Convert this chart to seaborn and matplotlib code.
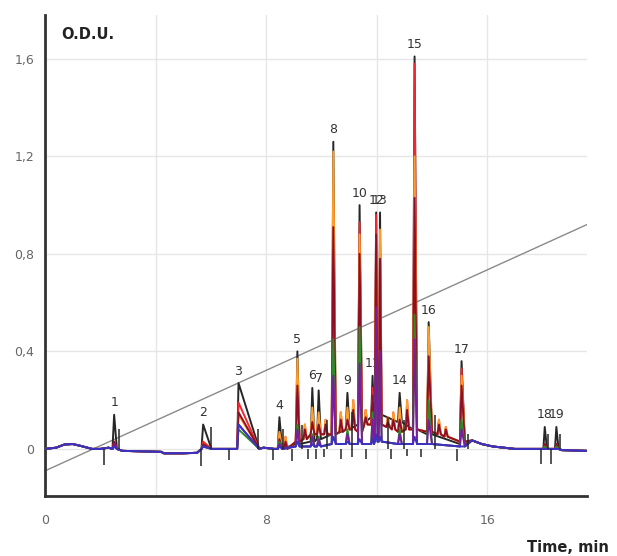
import matplotlib

matplotlib.use("Agg")
import matplotlib.pyplot as plt
import pandas as pd
import seaborn as sns

# peak table (time in min, signal in O.D.U.)
peak_numbers = list(range(1, 20))
peak_times = [2.5, 5.72, 7.0, 8.48, 9.13, 9.67, 9.9, 10.43, 10.94, 11.38,
              11.85, 11.98, 12.12, 12.83, 13.37, 13.88, 15.07, 18.08, 18.5]
rise = [0.06, 0.06, 0.05, 0.06, 0.06, 0.06, 0.06, 0.06, 0.06, 0.06,
        0.05, 0.05, 0.05, 0.06, 0.06, 0.06, 0.06, 0.05, 0.05]
fall = [0.1, 0.3, 0.75, 0.1, 0.08, 0.08, 0.08, 0.09, 0.08, 0.09,
        0.05, 0.05, 0.06, 0.08, 0.09, 0.12, 0.12, 0.08, 0.08]

floor_main = [0.0, 0.0, 0.0, 0.0, 0.03, 0.06, 0.06, 0.06, 0.08, 0.07,
              0.1, 0.1, 0.1, 0.07, 0.08, 0.07, 0.03, 0.0, 0.0]
floor_black = [0.0, 0.0, 0.0, 0.0, 0.02, 0.03, 0.04, 0.06, 0.08, 0.1,
               0.13, 0.14, 0.14, 0.11, 0.08, 0.06, 0.02, 0.0, 0.0]
floor_low = [0.0, 0.0, 0.0, 0.0, 0.01, 0.01, 0.01, 0.02, 0.02, 0.02,
             0.02, 0.03, 0.03, 0.02, 0.02, 0.02, 0.01, 0.0, 0.0]

black = [0.14, 0.10, 0.27, 0.13, 0.40, 0.25, 0.24, 1.26, 0.23, 1.00,
         0.30, 0.97, 0.97, 0.23, 1.61, 0.52, 0.36, 0.09, 0.09]
red = [0.03, 0.03, 0.19, 0.05, 0.28, 0.12, 0.12, 1.0, 0.14, 0.93,
       0.25, 0.96, 0.85, 0.14, 1.58, 0.42, 0.33, 0.02, 0.02]
orange = [0.02, 0.02, 0.14, 0.07, 0.37, 0.17, 0.15, 1.22, 0.17, 0.88,
          0.2, 0.86, 0.9, 0.17, 1.2, 0.5, 0.3, 0.01, 0.01]
darkred = [0.03, 0.02, 0.15, 0.04, 0.26, 0.11, 0.1, 0.91, 0.12, 0.8,
           0.22, 0.88, 0.78, 0.12, 1.03, 0.38, 0.26, 0.02, 0.02]
green = [0.01, 0.01, 0.08, 0.03, 0.1, 0.06, 0.05, 0.45, 0.08, 0.5,
         0.15, 0.45, 0.4, 0.08, 0.55, 0.2, 0.12, 0.01, 0.01]
purple = [0.02, 0.01, 0.1, 0.02, 0.08, 0.05, 0.04, 0.3, 0.06, 0.35,
          0.12, 0.58, 0.4, 0.06, 0.45, 0.12, 0.08, 0.0, 0.0]
blue = [0.01, 0.01, 0.1, 0.01, 0.03, 0.02, 0.02, 0.05, 0.03, 0.04,
        0.04, 0.06, 0.05, 0.02, 0.05, 0.02, 0.01, 0.0, 0.0]

# small unnumbered shoulders between the numbered peaks
shoulder_times = [8.7, 9.4, 10.15, 10.7, 11.15, 11.6, 12.4, 12.6, 13.1, 14.25, 14.5]
shoulder_orange = [0.05, 0.1, 0.12, 0.15, 0.2, 0.16, 0.13, 0.15, 0.2, 0.12, 0.09]
shoulder_darkred = [0.03, 0.08, 0.1, 0.12, 0.16, 0.13, 0.11, 0.12, 0.16, 0.1, 0.08]
shoulder_floor = [0.0, 0.04, 0.06, 0.07, 0.08, 0.1, 0.09, 0.08, 0.08, 0.06, 0.05]

# baseline outside the peaks, shared by the traces
quiet_times = [0.0, 0.4, 0.7, 1.0, 1.3, 1.7, 2.0, 2.3, 2.8, 3.5, 4.2, 4.3,
               5.0, 5.5, 6.3, 6.8, 7.9, 8.3, 15.45, 15.8, 16.2, 16.6, 17.0,
               17.9, 18.7, 19.6]
quiet_values = [0.0, 0.005, 0.018, 0.02, 0.012, 0.0, 0.0, 0.005, -0.008, -0.01,
                -0.012, -0.018, -0.018, -0.016, 0.0, 0.0, 0.005, 0.0, 0.035,
                0.02, 0.01, 0.005, 0.0, 0.0, -0.005, -0.008]

gradient_times = [0.0, 19.6]
gradient_values = [-0.09, 0.92]

# integration marks
mark_down_times = [2.14, 5.65, 6.67, 8.26, 8.95, 9.5, 9.8, 10.1, 10.7, 11.1,
                   11.6, 12.5, 13.1, 13.6, 14.9, 17.95, 18.3]
mark_down_depth = [-0.065, -0.07, -0.045, -0.045, -0.05, -0.04, -0.04, -0.035,
                   -0.04, -0.035, -0.04, -0.04, -0.03, -0.035, -0.05, -0.06, -0.06]
mark_up_times = [2.68, 6.0, 7.7, 8.6, 9.3, 10.2, 11.1, 12.4, 13.0, 14.1, 15.3, 18.2, 18.62]
mark_up_height = [0.08, 0.09, 0.08, 0.08, 0.1, 0.12, 0.15, 0.13, 0.12, 0.14, 0.06, 0.06, 0.06]

traces = {"black": black, "red": red, "orange": orange, "darkred": darkred,
          "green": green, "purple": purple, "blue": blue}
floors = {"black": floor_black, "green": floor_low, "purple": floor_low,
          "blue": floor_low}
shoulders = {"red": shoulder_orange, "orange": shoulder_orange,
             "darkred": shoulder_darkred}
palette = {"black": "#262626", "red": "#f0282d", "orange": "#ff9d2a",
           "darkred": "#8e0f24", "green": "#2f8a2a", "purple": "#7a1d9c",
           "blue": "#3a32c0"}

rows = []
for name, heights in traces.items():
    floor = floors.get(name, floor_main)
    pts = list(zip(quiet_times, quiet_values))
    for t, h, fl, l, r in zip(peak_times, heights, floor, rise, fall):
        pts += [(t - l, fl), (t, h), (t + r, fl)]
    if name in shoulders:
        for t, h, fl in zip(shoulder_times, shoulders[name], shoulder_floor):
            pts += [(t - 0.05, fl), (t, h), (t + 0.07, fl)]
    for t, v in sorted(pts):
        rows.append({"trace": name, "time": t, "signal": v})
df = pd.DataFrame(rows)

sns.set_style("white")
plt.rcParams["font.family"] = ["DejaVu Sans"]

fig = plt.figure(figsize=(6.17, 5.56), dpi=100)
ax = fig.add_axes([0.073, 0.108, 0.878, 0.865])

ax.plot(gradient_times, gradient_values, color="#8a8a8a", lw=1.0, zorder=1.5)
sns.lineplot(data=df, x="time", y="signal", hue="trace", hue_order=list(traces),
             palette=palette, estimator=None, sort=False, linewidth=1.4,
             legend=False, ax=ax, zorder=3)
ax.vlines(mark_down_times, mark_down_depth, 0, color="#262626", lw=1.1, zorder=4)
ax.vlines(mark_up_times, 0, mark_up_height, color="#262626", lw=1.1, zorder=4)

for n, t, h in zip(peak_numbers, peak_times, black):
    ax.annotate(str(n), (t, h), xytext=(0, 4), textcoords="offset points",
                ha="center", va="bottom", fontsize=9, color="#333333", zorder=2)

ax.set_xlim(0, 19.6)
ax.set_ylim(-0.193, 1.78)
ax.set_xticks([0, 8, 16])
ax.set_xticks([4, 12], minor=True)
ax.set_yticks([0, 0.4, 0.8, 1.2, 1.6])
ax.set_yticklabels(["0", "0,4", "0,8", "1,2", "1,6"])
ax.set_yticks([i / 10 for i in range(-1, 18)], minor=True)
ax.grid(True, which="major", color="#e6e6e6", lw=1)
ax.grid(True, which="minor", axis="x", color="#e6e6e6", lw=1)
ax.tick_params(axis="x", which="major", length=4, pad=9, labelsize=9,
               labelcolor="#666666", color="#333333")
ax.tick_params(axis="x", which="minor", length=3, color="#333333")
ax.tick_params(axis="y", which="major", length=4, pad=4, labelsize=9,
               labelcolor="#666666", color="#555555")
ax.tick_params(axis="y", which="minor", length=2, color="#999999")
ax.set_xlabel("")
ax.set_ylabel("")
for side in ["top", "right"]:
    ax.spines[side].set_visible(False)
for side in ["left", "bottom"]:
    ax.spines[side].set_color("#333333")
    ax.spines[side].set_linewidth(2)

ax.text(0.6, 1.70, "O.D.U.", fontsize=10.5, fontweight="bold", color="#222222",
        va="center")
fig.text(0.921, 0.016, "Time, min", fontsize=10.5, fontweight="bold",
         color="#222222", ha="center", va="center")

fig.savefig("out.png", dpi=100)
